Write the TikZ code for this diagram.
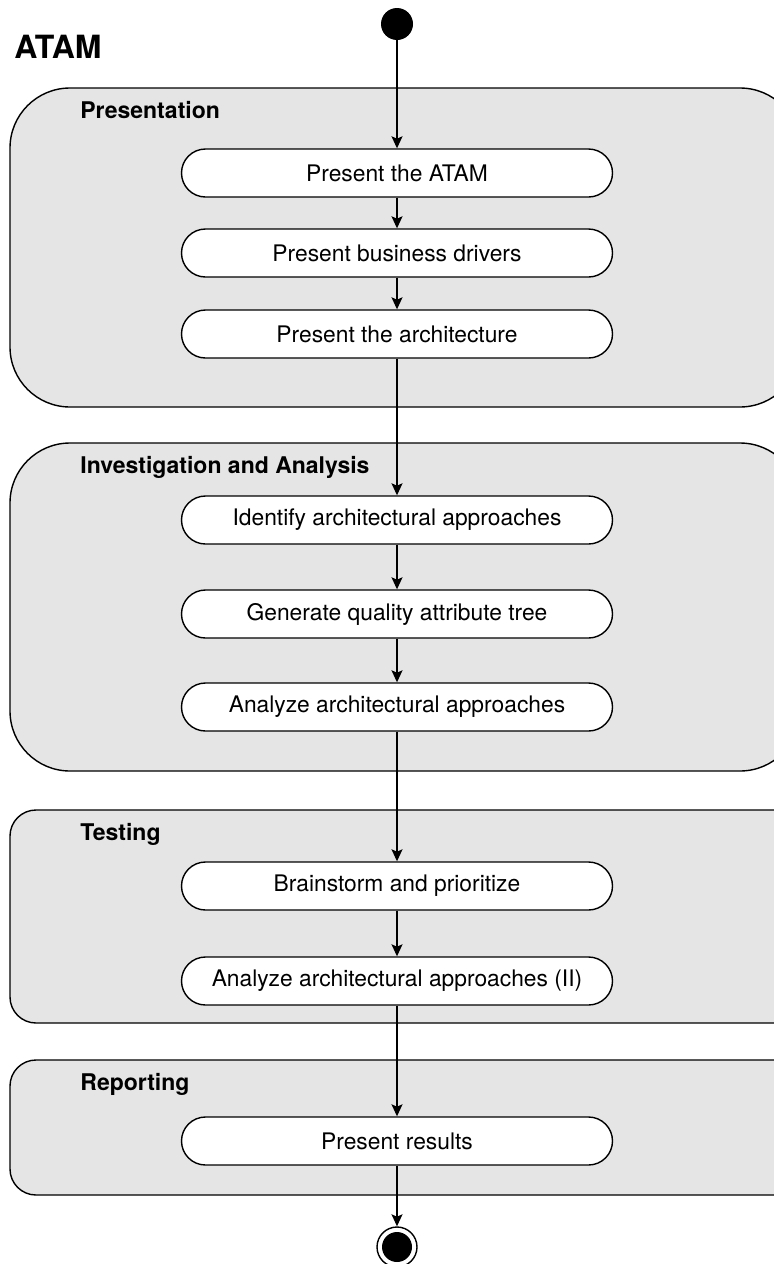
\documentclass[tikz,border=0pt]{standalone}
\usepackage{fontspec}
\setmainfont{TeX Gyre Heros}
\usepackage{tikz}
\usetikzlibrary{arrows.meta,positioning}
\definecolor{partgray}{RGB}{229,229,229}

\begin{document}
\begin{tikzpicture}[
  x=0.5pt, y=-0.5pt,
  part/.style={
    draw, fill=partgray, line width=0.7pt
  },
  partlabel/.style={anchor=west, inner sep=0pt, font=\fontsize{11.5}{13}\selectfont\bfseries},
  action/.style={
    draw, fill=white, rounded corners=12pt, line width=0.7pt,
    minimum width=215.5pt, minimum height=24pt,
    font=\fontsize{11.4}{13}\selectfont, inner sep=0pt
  },
  arr/.style={-{Stealth[length=6pt, width=5.5pt, inset=1.2pt]}, line width=0.7pt},
]

\clip (0,0) rectangle (774,1264);
\fill[white] (0,0) rectangle (774,1264);

% swimlane partitions
\draw[part, rounded corners=30pt] (10,88)   rectangle (800,407);
\draw[part, rounded corners=30pt] (10,443)  rectangle (800,771);
\draw[part, rounded corners=13pt] (10,810)  rectangle (800,1023);
\draw[part, rounded corners=13pt] (10,1060) rectangle (800,1195);

\node[anchor=west, inner sep=0pt, font=\fontsize{16}{18}\selectfont\bfseries] (title) at (14,47) {ATAM};
\node[partlabel] (lpres) at (80,110)  {Presentation};
\node[partlabel] (linv)  at (80,467)  {Investigation and Analysis};
\node[partlabel] (ltest) at (80,834)  {Testing};
\node[partlabel] (lrep)  at (80,1084) {Reporting};

% initial / final states
\node[circle, fill=black, minimum size=16pt, inner sep=0pt] (start) at (397,24) {};
\node[circle, draw, fill=white, line width=0.7pt, minimum size=20pt, inner sep=0pt] (stop) at (397,1247) {};
\node[circle, fill=black, minimum size=15pt, inner sep=0pt] (stopdot) at (397,1247) {};

% actions
\node[action] (atam)   at (397,173)  {Present the ATAM};
\node[action] (biz)    at (397,253)  {Present business drivers};
\node[action] (arch)   at (397,334)  {Present the architecture};
\node[action] (ident)  at (397,520)  {Identify architectural approaches};
\node[action] (tree)   at (397,614)  {Generate quality attribute tree};
\node[action] (anal)   at (397,707)  {Analyze architectural approaches};
\node[action] (brain)  at (397,886)  {Brainstorm and prioritize};
\node[action] (anal2)  at (397,981)  {Analyze architectural approaches (II)};
\node[action] (result) at (397,1141) {Present results};

\draw[arr] (start)  -- (atam);
\draw[arr] (atam)   -- (biz);
\draw[arr] (biz)    -- (arch);
\draw[arr] (arch)   -- (ident);
\draw[arr] (ident)  -- (tree);
\draw[arr] (tree)   -- (anal);
\draw[arr] (anal)   -- (brain);
\draw[arr] (brain)  -- (anal2);
\draw[arr] (anal2)  -- (result);
\draw[arr] (result) -- (stop);

\end{tikzpicture}
\end{document}
